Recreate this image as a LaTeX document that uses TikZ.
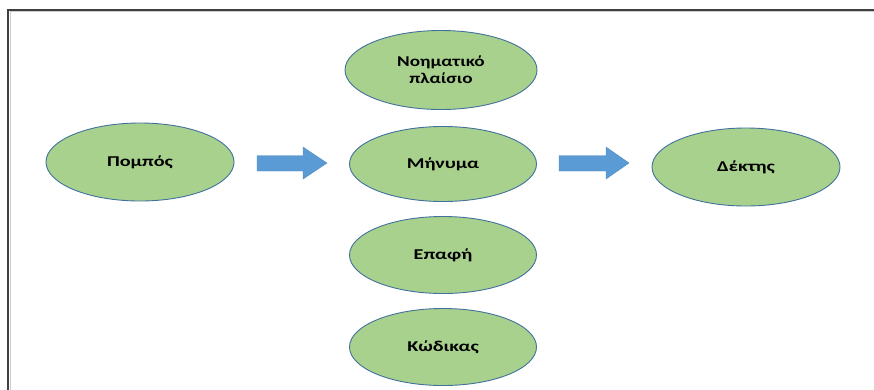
\documentclass[tikz,border=0pt]{standalone}
\usepackage{fontspec}
\setmainfont{Carlito}
\definecolor{fillgreen}{HTML}{A9D18E}
\definecolor{edgeblue}{HTML}{41719C}
\definecolor{arrowblue}{HTML}{5B9BD5}
\definecolor{framegray}{HTML}{404040}
\usetikzlibrary{shapes.geometric}
\tikzset{
  bubble/.style={ellipse, draw=edgeblue, line width=0.9pt, fill=fillgreen, inner sep=0pt,
    font=\fontsize{15}{17}\selectfont\bfseries, align=center},
  blockarrow/.style={fill=arrowblue, draw=arrowblue!90!black, line width=0.4pt},
}
\newcommand{\stretchtxt}[1]{\scalebox{1.35}[1]{#1}}
\newcommand{\stretchtxtb}[1]{\scalebox{1.28}[1]{#1}}
\begin{document}
\begin{tikzpicture}[x=1pt,y=-1pt]
\useasboundingbox (0,0) rectangle (874,389);
\fill[white] (0,0) rectangle (874,389);
% frame
\draw[framegray, line width=2pt] (8,391) -- (8,10) -- (876,10);
\draw[gray!40, line width=0.8pt] (10,391) -- (10,11.5) -- (876,11.5);
% ellipses
\node[bubble, minimum width=192pt, minimum height=79pt] (ctx) at (441,70)
  {\stretchtxtb{Νοηματικό}\\\stretchtxtb{πλαίσιο}};
\node[bubble, minimum width=188pt, minimum height=78pt] (snd) at (140,162) {\stretchtxt{Πομπός}};
\node[bubble, minimum width=187pt, minimum height=75pt] (msg) at (443,164) {\stretchtxt{Μήνυμα}};
\node[bubble, minimum width=188pt, minimum height=78pt] (rcv) at (746,167) {\stretchtxt{Δέκτης}};
\node[bubble, minimum width=187pt, minimum height=77pt] (cnt) at (443,255) {\stretchtxt{Επαφή}};
\node[bubble, minimum width=187pt, minimum height=77pt] (cod) at (443,347) {\stretchtxt{Κώδικας}};
% block arrows
\draw[blockarrow] (257,155.5) -- (303,155.5) -- (303,147) -- (327,163) -- (303,179) -- (303,171) -- (257,171) -- cycle;
\draw[blockarrow] (559,155.5) -- (606,155.5) -- (606,147) -- (629,163) -- (606,179) -- (606,171) -- (559,171) -- cycle;
\end{tikzpicture}
\end{document}
